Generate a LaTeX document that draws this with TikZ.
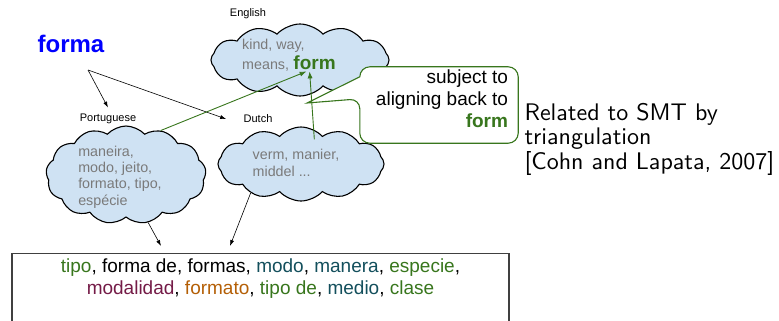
\documentclass[tikz,border=0pt]{standalone}
\usepackage{fontspec}
\setmainfont{Liberation Sans}
\newfontfamily\slidesans{lmsans10-regular.otf}
\usetikzlibrary{shapes.symbols,arrows.meta,positioning,calc}
\definecolor{cloudblue}{HTML}{CFE2F3}
\definecolor{wordgray}{HTML}{7A7A7A}
\definecolor{formgreen}{HTML}{38761D}
\definecolor{tealword}{HTML}{134F5C}
\definecolor{plumword}{HTML}{741B47}
\definecolor{orangeword}{HTML}{B45F06}
\tikzset{
  lang/.style={font=\fontsize{11}{13}\selectfont},
  wordcloud/.style={cloud, cloud puffs=12, cloud puff arc=95, cloud ignores aspect, draw=black, line width=1.1pt, fill=cloudblue},
  cloudtext/.style={align=left, text=wordgray, font=\fontsize{14.3}{16.3}\selectfont, inner sep=0pt},
  pivot/.style={-{Latex[length=6pt,width=4pt]}, line width=0.6pt},
  backarrow/.style={-{Latex[length=7pt,width=5pt]}, draw=formgreen, line width=0.9pt},
}
\newcommand{\hl}[2]{\textcolor{#1}{#2}}

\begin{document}
\begin{tikzpicture}[x=1pt,y=-1pt]
\useasboundingbox (0,0) rectangle (779,321);
\clip (0,0) rectangle (779,321);
% source word and pivot languages
\node (forma) [text=blue, font=\bfseries\fontsize{24}{28}\selectfont] at (71,44) {forma};
\coordinate (fork) at (88,70);
\node (enlabel) [lang] at (248,14) {English};
\node (ptlabel) [lang] at (108,119) {Portuguese};
\node (nllabel) [lang] at (258,119) {Dutch};
% clouds
\node (encloud) [wordcloud, minimum width=178pt, minimum height=72pt] at (300,60) {};
\node (ptcloud) [wordcloud, cloud puffs=13, minimum width=160pt, minimum height=98pt] at (126,175) {};
\node (nlcloud) [wordcloud, minimum width=166pt, minimum height=74pt] at (301,164) {};
\node (kindway) [cloudtext, anchor=base west] at (242,50) {kind, way,};
\node (means) [cloudtext, anchor=base west] at (242,70) {means,};
\node (form) [anchor=base west, inner sep=1pt, text=formgreen, font=\bfseries\fontsize{19}{22}\selectfont] at ([xshift=3pt]means.base east) {form};
\node (pttext) [cloudtext] at (120,177) {maneira,\\modo, jeito,\\formato, tipo,\\espécie};
\node (nltext) [cloudtext] at (296,163) {verm, manier,\\middel ...};
% translations
\node (trans) [draw=black!75, line width=1.1pt, anchor=north, minimum width=497pt, align=center, font=\fontsize{19}{22}\selectfont, inner ysep=5pt] at (260.5,253) {\hl{formgreen}{tipo}, forma de, formas, \hl{tealword}{modo}, \hl{tealword}{manera}, \hl{formgreen}{especie},\\ \hl{plumword}{modalidad}, \hl{orangeword}{formato}, \hl{formgreen}{tipo de}, \hl{tealword}{medio}, \hl{formgreen}{clase}\\ \strut};
\draw[pivot] (fork) -- ([yshift=3pt]ptlabel.north);
\draw[pivot] (fork) -- ([xshift=-14pt]nllabel.west);
\draw[pivot] (ptcloud.-65) -- ([xshift=-99.5pt,yshift=7pt]trans.north);
\draw[pivot] (nlcloud.-150) -- ([xshift=-30.5pt,yshift=7pt]trans.north);
% aligning back
\coordinate (notetip) at (307,103);
\node (note) [minimum width=158pt, minimum height=76pt] at (439,105) {};
\draw[formgreen, line width=1.1pt, fill=white] (notetip) -- ([yshift=-10pt]note.north west) [rounded corners=10pt] -- (note.north west) -- (note.north east) -- (note.south east) -- (note.south west) -- ([yshift=-32pt]note.north west) [sharp corners] -- cycle;
\node (notetext) [anchor=north east, align=right, inner sep=0pt, font=\fontsize{19}{22}\selectfont] at ([xshift=-10pt,yshift=-3pt]note.north east) {subject to\\aligning back to\\\textcolor{formgreen}{\bfseries form}};
\draw[backarrow] (ptcloud.52) -- ([xshift=-8pt]form.south);
\draw[backarrow, shorten <=-10pt] (nlcloud.70) -- ([xshift=-5pt]form.south);
% right side
\node (related) [anchor=west, align=left, font=\slidesans\fontsize{24}{24.5}\selectfont] at (521,139) {Related to SMT by\\triangulation\\{[}Cohn and Lapata, 2007{]}};
\end{tikzpicture}
\end{document}
